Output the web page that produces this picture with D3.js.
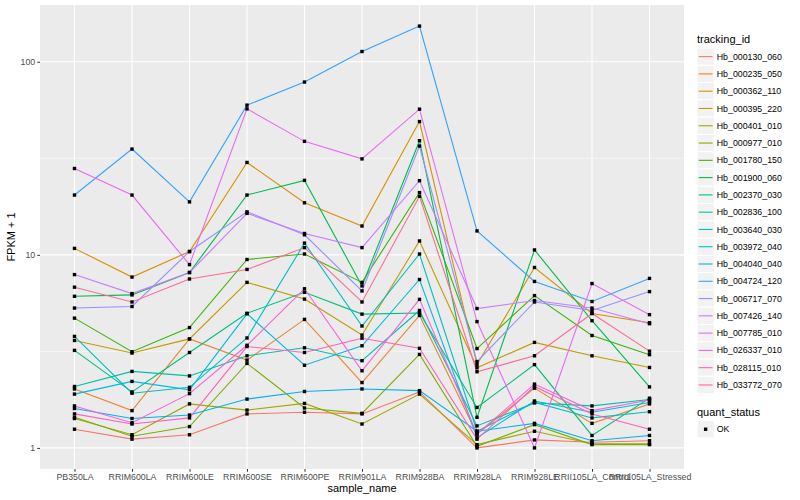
<!DOCTYPE html>
<html>
<head>
<meta charset="utf-8">
<script src="https://cdn.jsdelivr.net/npm/d3@7"></script>
<style>
  body { margin: 0; background: #fff; }
  text { font-family: "Liberation Sans", Arial, sans-serif; }
</style>
</head>
<body>
<div class="container"></div>
<script>
// samples on the x axis
var samples = ["PB350LA", "RRIM600LA", "RRIM600LE", "RRIM600SE", "RRIM600PE",
  "RRIM901LA", "RRIM928BA", "RRIM928LA", "RRIM928LE", "RRII105LA_Control", "RRII105LA_Stressed"];

var trackingIds = ["Hb_000130_060", "Hb_000235_050", "Hb_000362_110", "Hb_000395_220",
  "Hb_000401_010", "Hb_000977_010", "Hb_001780_150", "Hb_001900_060", "Hb_002370_030",
  "Hb_002836_100", "Hb_003640_030", "Hb_003972_040", "Hb_004040_040", "Hb_004724_120",
  "Hb_006717_070", "Hb_007426_140", "Hb_007785_010", "Hb_026337_010", "Hb_028115_010",
  "Hb_033772_070"];

// FPKM + 1, one row per tracking id (same order), one value per sample
var fpkm = [
  [1.25, 1.11, 1.17, 1.50, 1.53, 1.50, 1.95, 1.00, 1.10, 1.07, 1.09],
  [2.02, 1.56, 3.67, 2.85, 4.63, 2.18, 4.85, 1.18, 2.04, 1.34, 1.69],
  [10.8, 7.67, 10.4, 30.1, 18.6, 14.1, 49.0, 2.70, 8.60, 4.97, 4.45],
  [3.60, 3.10, 3.67, 7.20, 5.90, 3.84, 11.8, 2.60, 3.52, 3.00, 2.61],
  [1.42, 1.17, 1.69, 1.57, 1.70, 1.33, 1.90, 1.04, 1.22, 1.05, 1.05],
  [1.44, 1.15, 1.29, 2.74, 1.61, 1.51, 3.05, 1.02, 1.32, 1.04, 1.04],
  [4.70, 3.15, 4.20, 9.46, 10.1, 7.20, 21.0, 3.27, 6.15, 3.82, 3.04],
  [6.10, 6.20, 8.10, 20.4, 24.3, 6.90, 39.0, 1.44, 10.6, 4.56, 2.07],
  [3.20, 1.95, 3.12, 4.98, 6.40, 4.93, 5.00, 1.62, 2.70, 1.16, 1.81],
  [2.08, 2.49, 2.36, 3.00, 3.30, 2.83, 5.15, 1.30, 1.71, 1.65, 1.78],
  [3.78, 1.92, 2.06, 3.71, 11.5, 4.28, 10.1, 1.22, 1.72, 1.43, 1.54],
  [1.90, 2.21, 2.00, 4.95, 2.68, 3.38, 7.45, 1.13, 1.75, 1.53, 1.72],
  [1.60, 1.42, 1.48, 1.79, 1.96, 2.02, 1.98, 1.22, 1.34, 1.09, 1.16],
  [20.4, 35.3, 18.8, 59.6, 78.5, 113, 153, 13.3, 7.28, 5.73, 7.55],
  [5.30, 5.40, 10.4, 16.7, 12.7, 6.50, 36.6, 2.80, 5.70, 5.15, 6.45],
  [7.90, 6.30, 8.10, 16.4, 12.9, 10.9, 24.2, 5.27, 5.80, 5.30, 4.40],
  [28.0, 20.4, 8.90, 57.0, 38.7, 31.4, 56.8, 4.51, 1.00, 7.10, 4.90],
  [1.65, 1.35, 1.91, 3.40, 6.67, 2.51, 5.88, 1.18, 2.14, 1.56, 1.77],
  [1.50, 1.33, 1.43, 3.35, 3.12, 3.70, 3.28, 1.11, 2.08, 1.50, 1.25],
  [6.80, 5.70, 7.50, 8.40, 10.9, 5.70, 20.1, 2.48, 3.00, 4.97, 3.17]
];

var yTicks = [1, 10, 100];
var quantStatus = ["OK"];

// ggplot-like hue palette (polar Luv -> sRGB)
var hcl = function(h, c, l) {
  var hr = h * Math.PI / 180;
  var u = c * Math.cos(hr), v = c * Math.sin(hr);
  var Xn = 95.047, Yn = 100, Zn = 108.883;
  var den = Xn + 15 * Yn + 3 * Zn;
  var un = 4 * Xn / den, vn = 9 * Yn / den;
  var Y = l > 8 ? Yn * Math.pow((l + 16) / 116, 3) : Yn * l / 903.3;
  var up = u / (13 * l) + un, vp = v / (13 * l) + vn;
  var X = 9 * Y * up / (4 * vp), Z = Y * (12 - 3 * up - 20 * vp) / (4 * vp);
  X /= 100; Y /= 100; Z /= 100;
  var rgb = [
    3.2404542 * X - 1.5371385 * Y - 0.4985314 * Z,
    -0.9692660 * X + 1.8760108 * Y + 0.0415560 * Z,
    0.0556434 * X - 0.2040259 * Y + 1.0572252 * Z
  ].map(function(t) {
    t = t <= 0.0031308 ? 12.92 * t : 1.055 * Math.pow(t, 1 / 2.4) - 0.055;
    return Math.round(Math.max(0, Math.min(1, t)) * 255);
  });
  return d3.rgb(rgb[0], rgb[1], rgb[2]).formatHex();
};
var n = trackingIds.length;
var colors = trackingIds.map(function(d, i) { return hcl(15 + 360 / n * i, 100, 65); });
var color = d3.scaleOrdinal().domain(trackingIds).range(colors);

var series = trackingIds.map(function(id, i) {
  return { id: id, values: fpkm[i].map(function(v, j) { return { sample: samples[j], value: v }; }) };
});

var panel = { left: 40, right: 684, top: 5, bottom: 469 };

var svg = d3.select('.container').append('svg')
  .attr('width', 800).attr('height', 500);

var x = d3.scalePoint().domain(samples).range([panel.left, panel.right]).padding(0.6);

var all = d3.merge(fpkm);
var lo = Math.log10(d3.min(all)), hi = Math.log10(d3.max(all));
var pad = (hi - lo) * 0.05;
var y = d3.scaleLog().domain([Math.pow(10, lo - pad), Math.pow(10, hi + pad)])
  .range([panel.bottom, panel.top]);

// panel background
svg.append('rect')
  .attr('x', panel.left).attr('y', panel.top)
  .attr('width', panel.right - panel.left).attr('height', panel.bottom - panel.top)
  .attr('fill', '#EBEBEB');

// minor grid (halfway between decades)
var minor = [Math.pow(10, 0.5), Math.pow(10, 1.5)];
svg.append('g').selectAll('line').data(minor).enter().append('line')
  .attr('x1', panel.left).attr('x2', panel.right)
  .attr('y1', function(d) { return y(d); }).attr('y2', function(d) { return y(d); })
  .attr('stroke', '#fff').attr('stroke-width', 0.55);

// major grid
svg.append('g').selectAll('line').data(yTicks).enter().append('line')
  .attr('x1', panel.left).attr('x2', panel.right)
  .attr('y1', function(d) { return y(d); }).attr('y2', function(d) { return y(d); })
  .attr('stroke', '#fff').attr('stroke-width', 1.1);
svg.append('g').selectAll('line').data(samples).enter().append('line')
  .attr('y1', panel.top).attr('y2', panel.bottom)
  .attr('x1', function(d) { return x(d); }).attr('x2', function(d) { return x(d); })
  .attr('stroke', '#fff').attr('stroke-width', 1.1);

// lines
var line = d3.line()
  .x(function(d) { return x(d.sample); })
  .y(function(d) { return y(d.value); });

svg.append('g').selectAll('path').data(series).enter().append('path')
  .attr('d', function(d) { return line(d.values); })
  .attr('fill', 'none')
  .attr('stroke', function(d) { return color(d.id); })
  .attr('stroke-width', 1.1);

// points
var pts = d3.merge(series.map(function(s) { return s.values; }));
var ps = 3.4;
svg.append('g').selectAll('rect').data(pts).enter().append('rect')
  .attr('x', function(d) { return x(d.sample) - ps / 2; })
  .attr('y', function(d) { return y(d.value) - ps / 2; })
  .attr('width', ps).attr('height', ps)
  .attr('fill', '#000');

// axes
var xAxis = svg.append('g')
  .attr('transform', 'translate(0,' + panel.bottom + ')')
  .call(d3.axisBottom(x).tickSize(2.75).tickPadding(2));
var yAxis = svg.append('g')
  .attr('transform', 'translate(' + panel.left + ',0)')
  .call(d3.axisLeft(y).tickValues(yTicks).tickFormat(d3.format('d')).tickSize(2.75).tickPadding(2));

[xAxis, yAxis].forEach(function(a) {
  a.select('.domain').remove();
  a.selectAll('.tick line').attr('stroke', '#333').attr('stroke-width', 1);
  a.selectAll('.tick text').attr('fill', '#4D4D4D')
    .style('font-size', '8.8px').style('font-family', '"Liberation Sans", Arial, sans-serif');
});

svg.append('text')
  .attr('x', (panel.left + panel.right) / 2).attr('y', 492)
  .attr('text-anchor', 'middle').style('font-size', '11px')
  .text('sample_name');

svg.append('text')
  .attr('transform', 'translate(15,' + ((panel.top + panel.bottom) / 2) + ') rotate(-90)')
  .attr('text-anchor', 'middle').style('font-size', '11px')
  .text('FPKM + 1');

// legend: tracking_id
var lgX = 697, key = 17.28, lgTop = 48;
svg.append('text').attr('x', lgX).attr('y', 43).style('font-size', '11px').text('tracking_id');

var items = svg.append('g').selectAll('g').data(trackingIds).enter().append('g')
  .attr('transform', function(d, i) { return 'translate(' + lgX + ',' + (lgTop + i * key) + ')'; });
items.append('rect')
  .attr('width', key).attr('height', key)
  .attr('fill', '#F2F2F2').attr('stroke', '#fff').attr('stroke-width', 1);
items.append('line')
  .attr('x1', 1.7).attr('x2', key - 1.7)
  .attr('y1', key / 2).attr('y2', key / 2)
  .attr('stroke', function(d) { return color(d); }).attr('stroke-width', 1.1);
items.append('text')
  .attr('x', key + 2.5).attr('y', key / 2).attr('dy', '0.35em')
  .style('font-size', '8.8px').text(function(d) { return d; });

// legend: quant_status
svg.append('text').attr('x', lgX).attr('y', 416).style('font-size', '11px').text('quant_status');
var qs = svg.append('g').selectAll('g').data(quantStatus).enter().append('g')
  .attr('transform', function(d, i) { return 'translate(' + lgX + ',' + (420.6 + i * key) + ')'; });
qs.append('rect')
  .attr('width', key).attr('height', key)
  .attr('fill', '#F2F2F2').attr('stroke', '#fff').attr('stroke-width', 1);
qs.append('rect')
  .attr('x', key / 2 - ps / 2).attr('y', key / 2 - ps / 2)
  .attr('width', ps).attr('height', ps).attr('fill', '#000');
qs.append('text')
  .attr('x', key + 2.5).attr('y', key / 2).attr('dy', '0.35em')
  .style('font-size', '8.8px').text(function(d) { return d; });
</script>
</body>
</html>
